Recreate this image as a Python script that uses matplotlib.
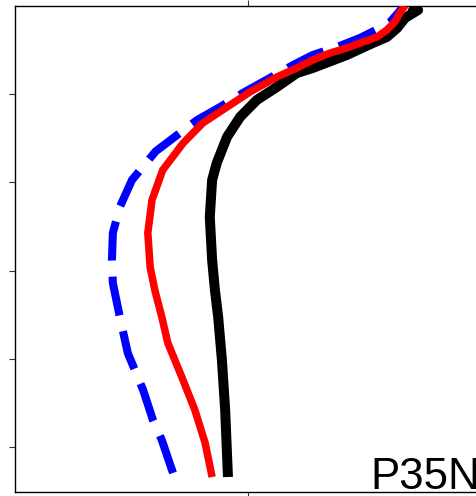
import numpy as np
import matplotlib
matplotlib.use("Agg")
import matplotlib.pyplot as plt

plt.rcParams['font.family'] = ['Liberation Sans', 'DejaVu Sans']

#
# Datos (profundidad en m, valores en unidades arbitrarias)
#
prof_negro = [0, 51, 141, 255, 356, 424, 560, 707, 764, 922, 1069, 1262, 1488, 1782, 1975,
              2394, 2880, 3220, 3525, 4012, 4578, 5336]
val_negro = [8.48, 8.65, 8.37, 8.20, 7.98, 7.68, 7.12, 6.39, 6.05, 5.62, 5.19, 4.83, 4.55, 4.33, 4.23,
             4.18, 4.23, 4.29, 4.36, 4.44, 4.51, 4.57]

prof_rojo = [0, 85, 187, 277, 356, 413, 481, 538, 617, 707, 809, 979, 1149, 1330, 1556, 1862,
             2201, 2574, 2960, 3220, 3525, 3820, 4205, 4578, 4951, 5336]
val_rojo = [8.37, 8.26, 8.15, 7.98, 7.77, 7.47, 7.12, 6.76, 6.39, 6.05, 5.62, 5.04, 4.55, 4.03, 3.61, 3.17,
            2.94, 2.85, 2.90, 3.00, 3.15, 3.28, 3.58, 3.86, 4.08, 4.23]

prof_azul = [0, 85, 187, 255, 368, 470, 560, 673, 820, 990, 1149, 1296, 1466, 1650, 1975, 2280,
             2574, 2880, 3141, 3525, 3933, 4352, 4691, 4917, 5290]
val_azul = [8.35, 8.22, 8.05, 7.83, 7.40, 6.91, 6.39, 5.97, 5.47, 4.89, 4.40, 3.91, 3.48, 3.02, 2.51, 2.25,
            2.10, 2.08, 2.10, 2.25, 2.42, 2.75, 2.96, 3.15, 3.39]

etiqueta = "P35N"

#
# Figura
#
fig = plt.figure(figsize=(4.77, 4.96), dpi=100)
ax = fig.add_axes([15/477, 1 - 491.5/496, 466/477, 486/496])

ax.set_xlim(0, 10)
ax.set_ylim(5500, 0)

# fase del trazo discontinuo: que el último trazo termine al final de la línea
lw_azul = 5.8
on, off = 4.9, 2.0
xy = ax.transData.transform(np.column_stack([val_azul, prof_azul]))
largo = np.sum(np.hypot(*np.diff(xy, axis=0).T)) * 72 / fig.dpi / lw_azul
fase = (on - largo) % (on + off)

ax.plot(val_negro, prof_negro, color='black', lw=7.2, solid_capstyle='butt', zorder=2)
ax.plot(val_azul, prof_azul, color='blue', lw=lw_azul, linestyle=(fase, (on, off)), zorder=3)
ax.plot(val_rojo, prof_rojo, color='red', lw=5.4, solid_capstyle='butt', zorder=4)

ax.set_xticks([5])
ax.set_yticks([1000, 2000, 3000, 4000, 5000])
ax.tick_params(axis='both', direction='out', length=4, width=0.8, colors='#333333',
               labelleft=False, labelbottom=False, top=True, right=False)
for s in ax.spines.values():
    s.set_linewidth(1.0)

fig.text(370/477, 1 - 489/496, etiqueta, fontsize=31.6, ha='left', va='baseline')

fig.savefig("out.png", dpi=100)
